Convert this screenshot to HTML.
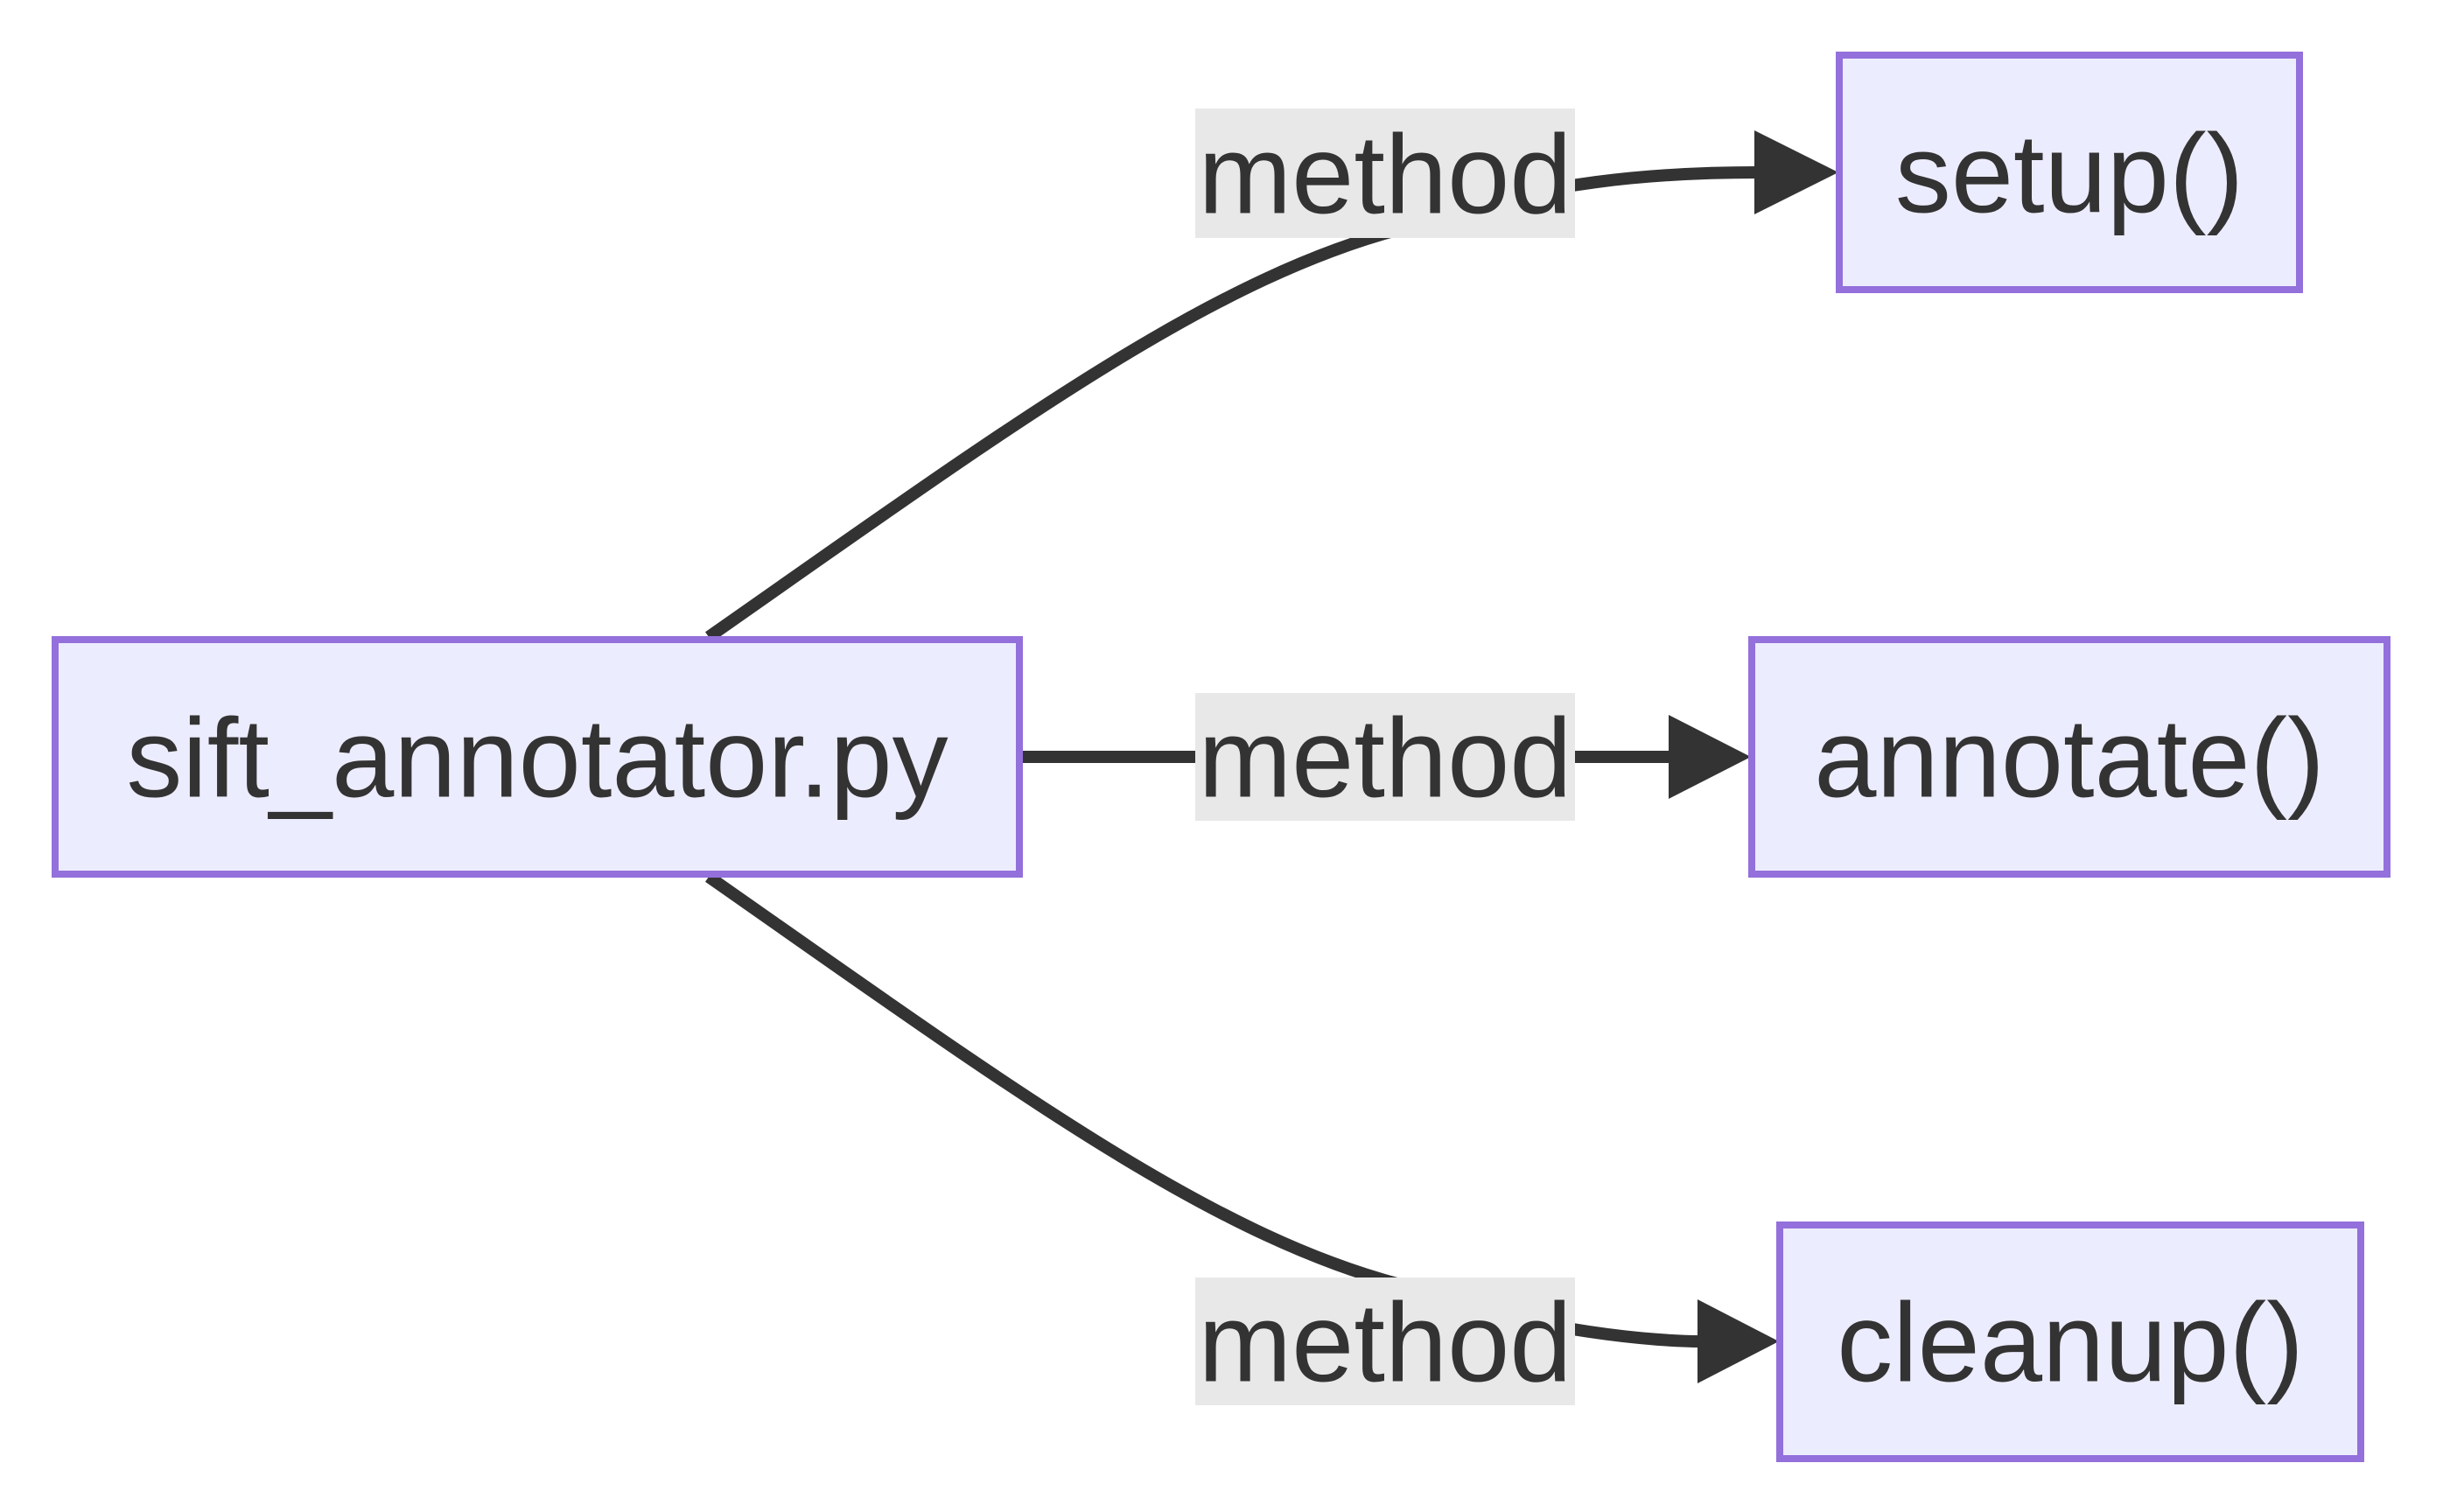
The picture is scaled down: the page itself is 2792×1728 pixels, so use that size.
<!DOCTYPE html>
<html><head><meta charset="utf-8"><style>
html,body{margin:0;padding:0;background:#fff;}
svg{display:block}
text{font-family:"Liberation Sans",sans-serif;font-size:128px;fill:#333;text-anchor:middle;dominant-baseline:central}
</style></head><body>
<svg width="2792" height="1728" viewBox="0 0 2792 1728">
<g fill="none" stroke="#333" stroke-width="14">
<path d="M810,728 C1150,490 1380,320 1600,262 C1760,205 1900,197 2010,197"/>
<path d="M1168,865 L1915,865"/>
<path d="M810,1002 C1150,1240 1380,1410 1600,1468 C1760,1525 1900,1533 1945,1533"/>
</g>
<polygon points="2005,149 2101,197 2005,245" fill="#333"/>
<polygon points="1907,817 2001,865 1907,913" fill="#333"/>
<polygon points="1940,1485 2033,1533 1940,1581" fill="#333"/>
<rect x="1366" y="124" width="434" height="148" fill="#e8e8e8"/>
<rect x="1366" y="792" width="434" height="146" fill="#e8e8e8"/>
<rect x="1366" y="1460" width="434" height="146" fill="#e8e8e8"/>
<text x="1583" y="200">method</text>
<text x="1583" y="867">method</text>
<text x="1583" y="1535">method</text>
<g fill="#ECECFF" stroke="#9370DB" stroke-width="8">
<rect x="63" y="731" width="1102" height="268"/>
<rect x="2102" y="63" width="526" height="268"/>
<rect x="2002" y="731" width="726" height="268"/>
<rect x="2034" y="1400" width="664" height="267"/>
</g>
<text x="614" y="867">sift_annotator.py</text>
<text x="2365" y="199">setup()</text>
<text x="2365" y="867">annotate()</text>
<text x="2366" y="1535">cleanup()</text>
</svg>
</body></html>
